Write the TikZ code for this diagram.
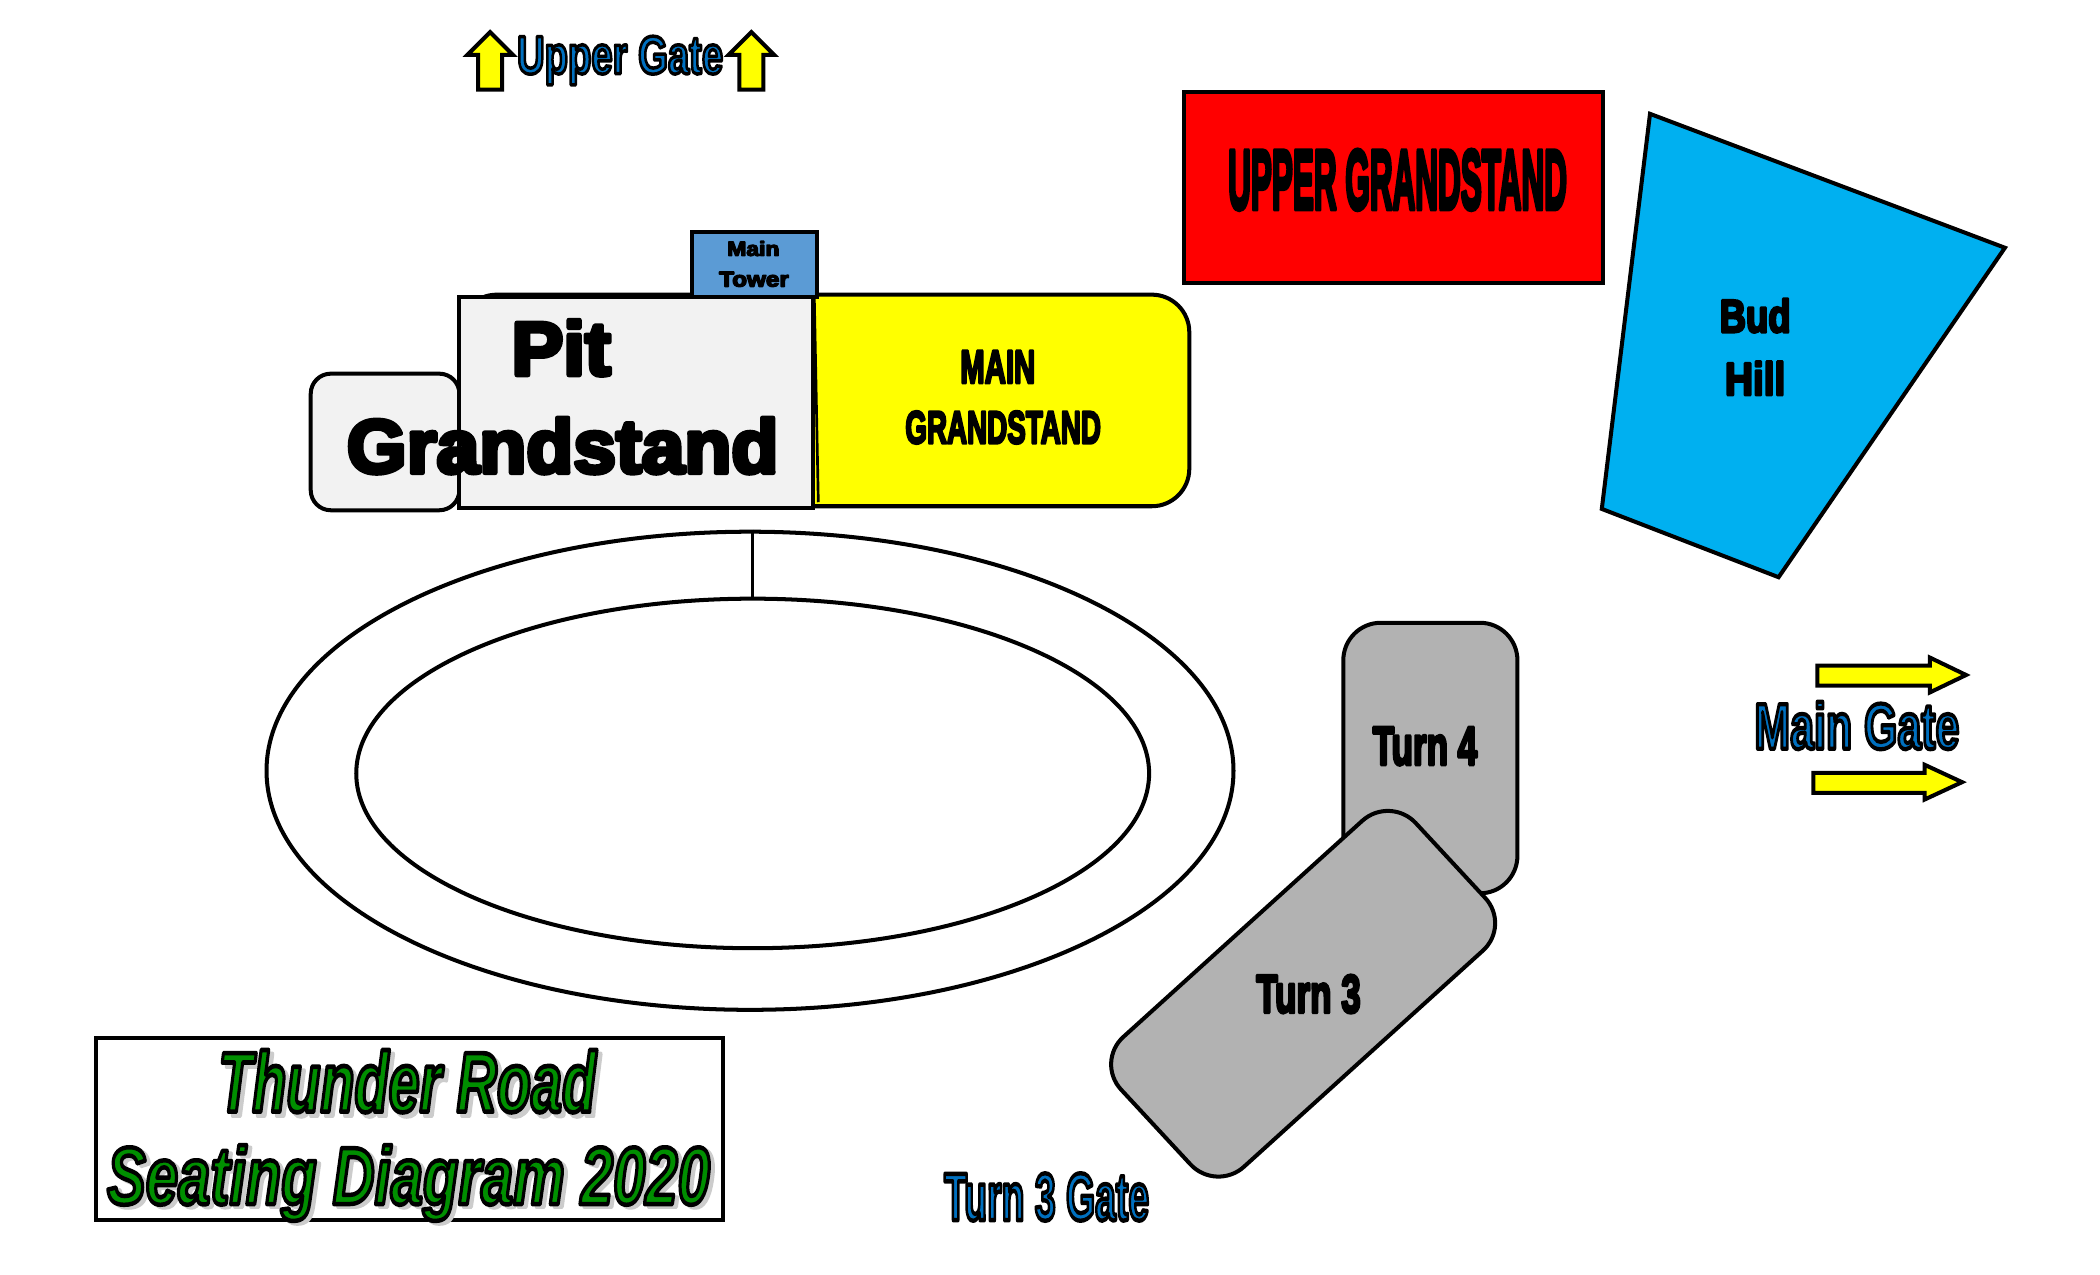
\documentclass[tikz,border=0pt]{standalone}
\usepackage{fontspec}
\usepackage{graphicx}
\setmainfont{Liberation Sans}
\usetikzlibrary{shapes.geometric}
\definecolor{pitgray}{HTML}{F2F2F2}
\definecolor{turngray}{HTML}{B2B2B2}
\definecolor{towerblue}{HTML}{5B9BD5}
\definecolor{budblue}{HTML}{00B0F0}
\definecolor{pureyellow}{HTML}{FFFF00}
\definecolor{purered}{HTML}{FF0000}
% #1 stroke width, #2 fill rgb, #3 stroke rgb, #4 italic switch, #5 width, #6 height, #7 text
\newcommand\outtext[7]{\resizebox{#5pt}{#6pt}{\special{pdf:code q 2 Tr 1 j #1 w #3 RG #2 rg}\bfseries#4#7\special{pdf:code Q}}}
\newcommand\blacklabel[3]{\outtext{0.6}{0 0 0}{0 0 0}{}{#1}{#2}{#3}}
\newcommand\bluelabel[3]{\outtext{0.65}{0 0.44 0.75}{0 0 0}{}{#1}{#2}{#3}}
\newcommand\greenlabel[3]{\outtext{0.55}{0 0.56 0}{0 0 0}{\itshape}{#1}{#2}{#3}}
\newcommand\shadowlabel[3]{\outtext{0.55}{0.8 0.8 0.8}{0.8 0.8 0.8}{\itshape}{#1}{#2}{#3}}
\tikzset{
  x=1pt,y=-1pt,
  outline/.style={draw=black,line width=3pt,line join=miter},
  txt/.style={inner sep=0pt,outer sep=0pt,anchor=base west},
  gatearrow/.style={draw=black,line width=3pt,fill=pureyellow,line join=miter},
}
\begin{document}
\begin{tikzpicture}
\useasboundingbox (0,0) rectangle (1568,952);
% grandstands behind
\path[outline,fill=pureyellow,rounded corners=28pt] (343,220) rectangle (888,378);
\path[outline,fill=pitgray,rounded corners=15pt] (232,279) rectangle (343,381);
\path[outline,fill=towerblue] (517,173) rectangle (610,222);
\path[outline,fill=pitgray] (343,222) rectangle (607,379);
\path[draw=black,line width=2pt] (608,222) -- (611,375);
% upper grandstand
\path[outline,fill=purered] (884,69) rectangle (1197,211);
% bud hill
\path[outline,fill=budblue] (1232,85) -- (1497,185) -- (1328,431) -- (1196,380) -- cycle;
% track
\node[ellipse,draw=black,line width=3pt,minimum width=722pt,minimum height=357pt,inner sep=0pt] (outer) at (560,575.5) {};
\node[ellipse,draw=black,line width=3pt,minimum width=592pt,minimum height=261pt,inner sep=0pt] (inner) at (562,577.5) {};
\draw[line width=2.5pt] (inner.north |- outer.north) -- (inner.north);
% turns
\path[outline,fill=turngray,rounded corners=28pt] (1003,465) rectangle (1133,667);
\path[outline,fill=turngray,rounded corners=28pt] (1038,594) -- (1128,691) -- (908,890) -- (818,793) -- cycle;
% title box
\path[outline,fill=white] (72,775) rectangle (540,911);
% arrows
\path[gatearrow] (366,24) -- (383,41) -- (375,41) -- (375,67) -- (357,67) -- (357,41) -- (349,41) -- cycle;
\path[gatearrow] (561,24) -- (578,41) -- (570,41) -- (570,67) -- (552,67) -- (552,41) -- (544,41) -- cycle;
\path[gatearrow] (1468,504) -- (1441,491) -- (1441,497) -- (1357,497) -- (1357,512) -- (1441,512) -- (1441,517) -- cycle;
\path[gatearrow] (1465,584) -- (1437,571) -- (1437,577) -- (1354,577) -- (1354,592) -- (1437,592) -- (1437,597) -- cycle;
% texts
\node[txt] (ug) at (386,55) {\bluelabel{154}{28}{Upper Gate}};
\node[txt] (mg) at (1310,559) {\bluelabel{153}{35}{Main Gate}};
\node[txt] (t3g) at (705,911) {\bluelabel{153}{35}{Turn 3 Gate}};
\node[txt] (upg) at (917,156) {\blacklabel{253}{44}{UPPER GRANDSTAND}};
\node[txt] (bud) at (1284,248) {\blacklabel{53}{25}{Bud}};
\node[txt] (hill) at (1288,295) {\blacklabel{45}{25}{Hill}};
\node[txt] (pit) at (382,280) {\blacklabel{74}{41}{Pit}};
\node[txt] (gs) at (259,353) {\blacklabel{322}{41}{Grandstand}};
\node[txt] (mt1) at (543,191) {\blacklabel{39}{11}{Main}};
\node[txt] (mt2) at (537,214) {\blacklabel{52}{11}{Tower}};
\node[txt] (mgs1) at (717,286) {\blacklabel{56}{24}{MAIN}};
\node[txt] (mgs2) at (676,331) {\blacklabel{146}{24}{GRANDSTAND}};
\node[txt] (t4) at (1025,571) {\blacklabel{78}{28}{Turn 4}};
\node[txt] (t3) at (938,756) {\blacklabel{78}{28}{Turn 3}};
\node[txt] (tr1) at (166,833) {\shadowlabel{282}{46}{Thunder Road}};
\node[txt] (tr2) at (163,830) {\greenlabel{282}{46}{Thunder Road}};
\node[txt] (sd1) at (83,901) {\shadowlabel{450}{44}{Seating Diagram 2020}};
\node[txt] (sd2) at (80,899) {\greenlabel{450}{44}{Seating Diagram 2020}};
\end{tikzpicture}
\end{document}
